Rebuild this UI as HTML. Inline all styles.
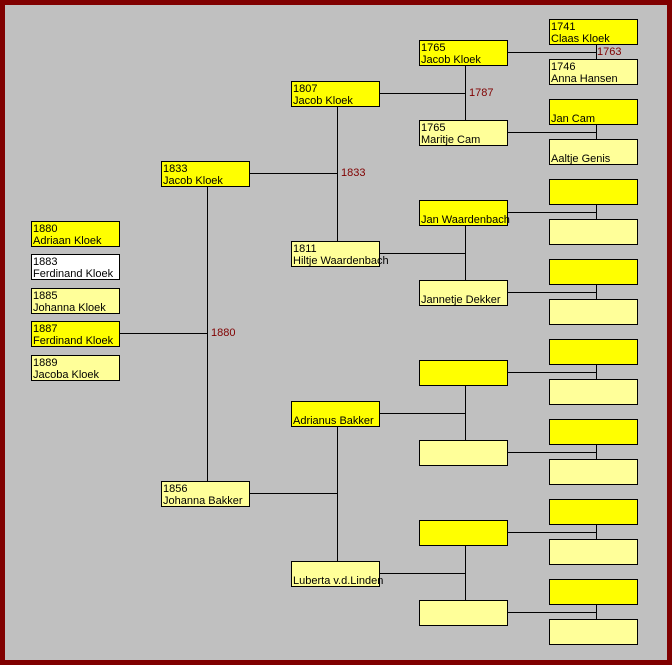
<!DOCTYPE html>
<html><head><meta charset="utf-8"><style>
html,body{margin:0;padding:0}
#f{position:relative;width:672px;height:665px;background:#c0c0c0;box-sizing:border-box;border:5px solid #800000;overflow:hidden;font-family:"Liberation Sans",sans-serif;font-size:11px;color:#000}
.b{position:absolute;width:86px;height:24px;border:1px solid #000;line-height:12px;padding-left:1px;padding-top:1px;height:23px;box-sizing:content-box;white-space:nowrap;overflow:visible}
.m{background:#ffff00}.w{background:#ffff99}.n{background:#fff}
svg{position:absolute;left:-5px;top:-5px}
.l{position:absolute;color:#800000;font-size:11px;line-height:12px}
</style></head><body><div id="f">
<svg width="672" height="665"><g stroke="#000" stroke-width="1" fill="none" shape-rendering="crispEdges">
<path d="M119.5 333.5H207.5M207.5 186V481M249 173.5H337.5M337.5 106V241M249 493.5H337.5M337.5 426V561"/>
<path d="M379 93.5H465.5M465.5 65V120M379 253.5H465.5M465.5 225V280M379 413.5H465.5M465.5 385V440M379 573.5H465.5M465.5 545V600"/>
<path d="M508 52.5H596.5M596.5 44V59M508 132.5H596.5M596.5 124V139M508 212.5H596.5M596.5 204V219M508 292.5H596.5M596.5 284V299M508 372.5H596.5M596.5 364V379M508 452.5H596.5M596.5 444V459M508 532.5H596.5M596.5 524V539M508 612.5H596.5M596.5 604V619"/>
</g></svg>
<div class="l" style="left:592px;top:41px">1763</div>
<div class="l" style="left:464px;top:82px">1787</div>
<div class="l" style="left:336px;top:162px">1833</div>
<div class="l" style="left:206px;top:322px">1880</div>

<div class="b m" style="left:26px;top:216px">1880<br>Adriaan Kloek</div>
<div class="b n" style="left:26px;top:249px">1883<br>Ferdinand Kloek</div>
<div class="b w" style="left:26px;top:283px">1885<br>Johanna Kloek</div>
<div class="b m" style="left:26px;top:316px">1887<br>Ferdinand Kloek</div>
<div class="b w" style="left:26px;top:350px">1889<br>Jacoba Kloek</div>

<div class="b m" style="left:156px;top:156px">1833<br>Jacob Kloek</div>
<div class="b w" style="left:156px;top:476px">1856<br>Johanna Bakker</div>

<div class="b m" style="left:286px;top:76px">1807<br>Jacob Kloek</div>
<div class="b w" style="left:286px;top:236px">1811<br>Hiltje Waardenbach</div>
<div class="b m" style="left:286px;top:396px">&nbsp;<br>Adrianus Bakker</div>
<div class="b w" style="left:286px;top:556px">&nbsp;<br>Luberta v.d.Linden</div>

<div class="b m" style="left:414px;top:35px">1765<br>Jacob Kloek</div>
<div class="b w" style="left:414px;top:115px">1765<br>Maritje Cam</div>
<div class="b m" style="left:414px;top:195px">&nbsp;<br>Jan Waardenbach</div>
<div class="b w" style="left:414px;top:275px">&nbsp;<br>Jannetje Dekker</div>
<div class="b m" style="left:414px;top:355px"></div>
<div class="b w" style="left:414px;top:435px"></div>
<div class="b m" style="left:414px;top:515px"></div>
<div class="b w" style="left:414px;top:595px"></div>

<div class="b m" style="left:544px;top:14px">1741<br>Claas Kloek</div>
<div class="b w" style="left:544px;top:54px">1746<br>Anna Hansen</div>
<div class="b m" style="left:544px;top:94px">&nbsp;<br>Jan Cam</div>
<div class="b w" style="left:544px;top:134px">&nbsp;<br>Aaltje Genis</div>
<div class="b m" style="left:544px;top:174px"></div>
<div class="b w" style="left:544px;top:214px"></div>
<div class="b m" style="left:544px;top:254px"></div>
<div class="b w" style="left:544px;top:294px"></div>
<div class="b m" style="left:544px;top:334px"></div>
<div class="b w" style="left:544px;top:374px"></div>
<div class="b m" style="left:544px;top:414px"></div>
<div class="b w" style="left:544px;top:454px"></div>
<div class="b m" style="left:544px;top:494px"></div>
<div class="b w" style="left:544px;top:534px"></div>
<div class="b m" style="left:544px;top:574px"></div>
<div class="b w" style="left:544px;top:614px"></div>
</div></body></html>
